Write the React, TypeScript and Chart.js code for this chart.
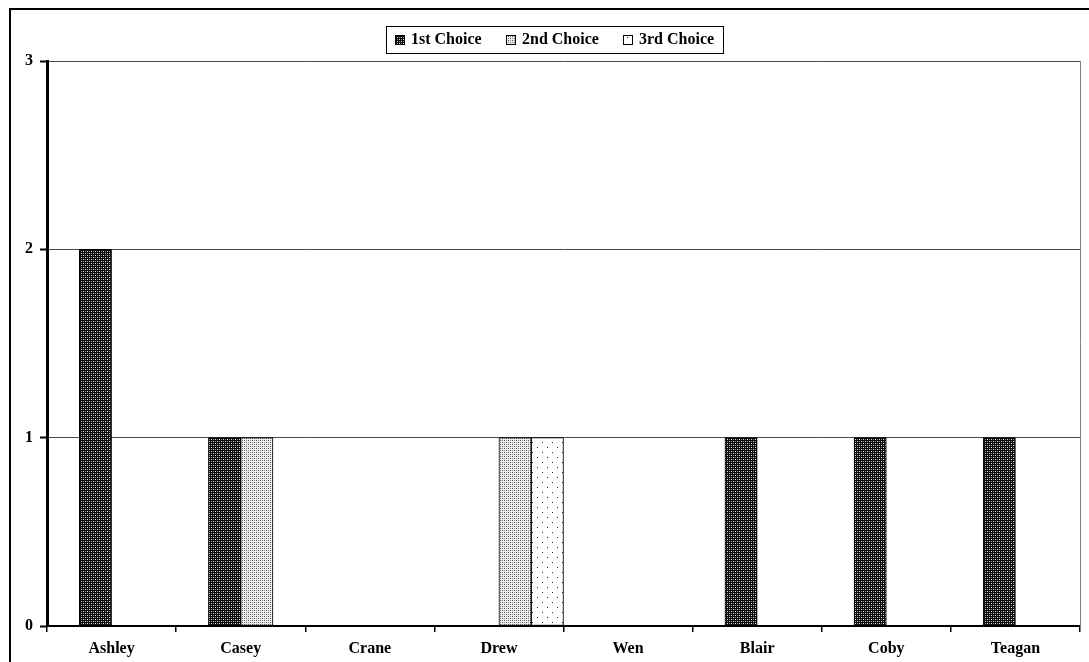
import React, { useEffect, useRef } from "react";
import { Chart, registerables } from "chart.js";

Chart.register(...registerables);

const categories = ["Ashley", "Casey", "Crane", "Drew", "Wen", "Blair", "Coby", "Teagan"];
const seriesLabels = ["1st Choice", "2nd Choice", "3rd Choice"];
const firstChoice = [2, 1, 0, 0, 0, 1, 1, 1];
const secondChoice = [0, 1, 0, 1, 0, 0, 0, 0];
const thirdChoice = [0, 0, 0, 1, 0, 0, 0, 0];
const yMin = 0;
const yMax = 3;
const yStep = 1;

const FONT = "'Liberation Serif', 'Times New Roman', serif";

function makePattern(kind: number): CanvasPattern | string {
  const c = document.createElement("canvas");
  const size = kind === 2 ? 10 : 4;
  c.width = size;
  c.height = size;
  const g = c.getContext("2d");
  if (!g) return "#888";
  if (kind === 0) {
    g.fillStyle = "#0a0a0a";
    g.fillRect(0, 0, size, size);
    g.fillStyle = "#e8e8e8";
    g.fillRect(1, 1, 1, 1);
    g.fillRect(3, 3, 1, 1);
    g.fillStyle = "#8a8a8a";
    g.fillRect(3, 1, 1, 1);
    g.fillRect(1, 3, 1, 1);
  } else if (kind === 1) {
    g.fillStyle = "#ececec";
    g.fillRect(0, 0, size, size);
    g.fillStyle = "#555";
    g.fillRect(0, 0, 1, 1);
    g.fillRect(2, 2, 1, 1);
    g.fillStyle = "#8c8c8c";
    g.fillRect(2, 0, 1, 1);
    g.fillRect(0, 2, 1, 1);
  } else {
    g.fillStyle = "#ffffff";
    g.fillRect(0, 0, size, size);
    g.fillStyle = "#222";
    g.fillRect(2, 2, 1, 1);
    g.fillRect(7, 7, 1, 1);
  }
  return g.createPattern(c, "repeat") || "#888";
}

const decorPlugin = {
  id: "decor",
  beforeDraw(chart: any) {
    const ctx = chart.ctx;
    ctx.save();
    ctx.fillStyle = "#ffffff";
    ctx.fillRect(0, 0, chart.width, chart.height);
    ctx.strokeStyle = "#000";
    ctx.lineWidth = 2;
    ctx.strokeRect(10, 9, chart.width + 20, chart.height + 20);
    ctx.restore();
  },
  afterDraw(chart: any) {
    const ctx = chart.ctx;
    const area = chart.chartArea;
    ctx.save();
    // plot area right border
    ctx.strokeStyle = "#808080";
    ctx.lineWidth = 1;
    ctx.beginPath();
    ctx.moveTo(Math.round(area.right) + 0.5, area.top);
    ctx.lineTo(Math.round(area.right) + 0.5, area.bottom);
    ctx.stroke();

    // legend
    const datasets = chart.data.datasets.filter((d: any) => d.label);
    ctx.font = `bold 16px ${FONT}`;
    const box = 10;
    const gapText = 6;
    const padX = 9;
    const legendWidth = 337;
    const widths = datasets.map((d: any) => box + gapText + ctx.measureText(d.label).width);
    const sum = widths.reduce((a: number, b: number) => a + b, 0);
    const gapItem = Math.max(8, (legendWidth - padX * 2 - sum) / Math.max(1, datasets.length - 1));
    const total = legendWidth;
    const cx = 554.5;
    const top = 26;
    const h = 27;
    const x0 = Math.round(cx - total / 2);
    ctx.strokeStyle = "#000";
    ctx.lineWidth = 1;
    ctx.strokeRect(x0 + 0.5, top + 0.5, Math.round(total), h);
    let x = x0 + padX;
    const cy = top + h / 2 + 0.5;
    datasets.forEach((d: any, i: number) => {
      const bx = Math.round(x);
      const by = Math.round(cy - box / 2);
      ctx.fillStyle = d.backgroundColor;
      ctx.fillRect(bx, by, box, box);
      ctx.strokeStyle = "#000";
      ctx.strokeRect(bx + 0.5, by + 0.5, box - 1, box - 1);
      ctx.fillStyle = "#000";
      ctx.textBaseline = "middle";
      ctx.textAlign = "left";
      ctx.fillText(d.label, bx + box + gapText, cy);
      x += widths[i] + gapItem;
    });
    ctx.restore();
  },
};

export default function App() {
  const ref = useRef<HTMLCanvasElement | null>(null);

  useEffect(() => {
    const canvas = ref.current;
    if (!canvas) return;
    Chart.defaults.font.family = FONT;
    Chart.defaults.font.weight = "bold" as any;
    Chart.defaults.font.size = 16;
    Chart.defaults.color = "#000";

    const chart = new Chart(canvas, {
      type: "bar",
      data: {
        labels: categories,
        datasets: [
          { label: "", data: categories.map(() => null), backgroundColor: "transparent" },
          {
            label: seriesLabels[0],
            data: firstChoice,
            backgroundColor: makePattern(0) as any,
            borderColor: "#000",
            borderWidth: 1,
            borderSkipped: false,
          },
          {
            label: seriesLabels[1],
            data: secondChoice,
            backgroundColor: makePattern(1) as any,
            borderColor: "#000",
            borderWidth: 1,
            borderSkipped: false,
          },
          {
            label: seriesLabels[2],
            data: thirdChoice,
            backgroundColor: makePattern(2) as any,
            borderColor: "#000",
            borderWidth: 1,
            borderSkipped: false,
          },
        ],
      },
      options: {
        responsive: false,
        animation: false,
        devicePixelRatio: 1,
        layout: { padding: { top: 61, right: 9, left: 0, bottom: 0 } },
        datasets: { bar: { categoryPercentage: 1, barPercentage: 1 } },
        plugins: {
          legend: { display: false },
          tooltip: { enabled: false },
          title: { display: false },
        },
        scales: {
          x: {
            offset: true,
            grid: {
              offset: true,
              drawOnChartArea: false,
              drawTicks: true,
              tickLength: 6,
              tickColor: "#000",
              color: "#000",
              lineWidth: 1.5,
            },
            border: { color: "#000", width: 2 },
            ticks: { padding: 7, font: { size: 16, weight: "bold" as any }, maxRotation: 0, autoSkip: false },
            afterFit(scale: any) {
              scale.height = 36;
            },
          },
          y: {
            min: yMin,
            max: yMax,
            ticks: { stepSize: yStep, padding: 7, font: { size: 16, weight: "bold" as any } },
            grid: { color: "#4a4a4a", tickColor: "#000", tickLength: 7, tickWidth: 2 },
            border: { color: "#000", width: 3 },
            afterFit(scale: any) {
              scale.width = 47;
            },
          },
        },
      },
      plugins: [decorPlugin],
    });
    return () => chart.destroy();
  }, []);

  return (
    <div style={{ position: "fixed", left: 0, top: 0, width: 1089, height: 662 }}>
      <canvas ref={ref} width={1089} height={662} style={{ display: "block", width: 1089, height: 662 }} />
    </div>
  );
}
